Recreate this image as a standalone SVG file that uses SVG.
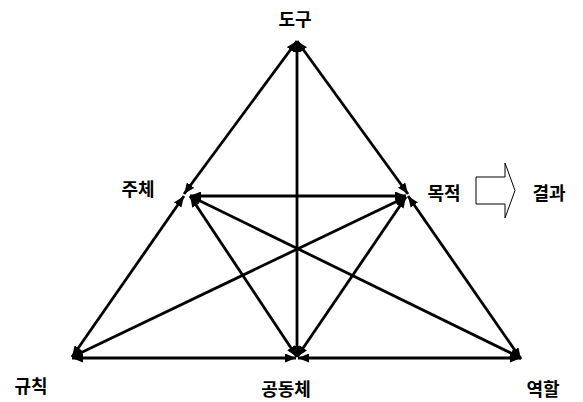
<svg xmlns="http://www.w3.org/2000/svg" width="583" height="402" viewBox="0 0 583 402">
<defs>
<marker id="ah" viewBox="0 0 11 9" refX="11" refY="4.5" markerWidth="11" markerHeight="9" markerUnits="userSpaceOnUse" orient="auto-start-reverse">
<path d="M0,0 L11,4.5 L0,9 Z" fill="#000"/>
</marker>
<style>
.c line{stroke:#000;stroke-width:2.8;marker-start:url(#ah);marker-end:url(#ah)}
.t{font-family:"Noto Sans CJK KR","Noto Sans",sans-serif;font-size:18px;font-weight:bold;fill:#000;text-anchor:middle;dominant-baseline:central}
</style>
</defs>
<rect width="583" height="402" fill="#fff"/>
<g id="connectors" class="c">
<line x1="297" y1="41" x2="184" y2="194"/>
<line x1="297" y1="41" x2="408" y2="194"/>
<line x1="297" y1="41" x2="297" y2="357"/>
<line x1="190" y1="196" x2="406" y2="196"/>
<line x1="72" y1="357" x2="184" y2="196"/>
<line x1="521" y1="359" x2="408" y2="196"/>
<line x1="72" y1="358" x2="296" y2="358"/>
<line x1="298" y1="358" x2="521" y2="358"/>
<line x1="190" y1="196" x2="297" y2="357"/>
<line x1="406" y1="197" x2="297" y2="357"/>
<line x1="190" y1="196" x2="521" y2="358"/>
<line x1="406" y1="197" x2="72" y2="357"/>
</g>
<g id="n-dogu"><text class="t" x="295" y="18">도구</text></g>
<g id="n-juche"><text class="t" x="138" y="188">주체</text></g>
<g id="n-mokjeok"><text class="t" x="444" y="192">목적</text></g>
<g id="n-gyeolgwa"><text class="t" x="549" y="192">결과</text></g>
<g id="n-gyuchik"><text class="t" x="31" y="385">규칙</text></g>
<g id="n-gongdongche"><text class="t" x="286" y="388">공동체</text></g>
<g id="n-yeokhal"><text class="t" x="543" y="388">역할</text></g>
<g id="block-arrow"><path d="M476,177 L505,177 L505,163 L515,190.5 L505,218 L505,204 L476,204 Z" fill="#fff" stroke="#000" stroke-width="1"/></g>
</svg>
